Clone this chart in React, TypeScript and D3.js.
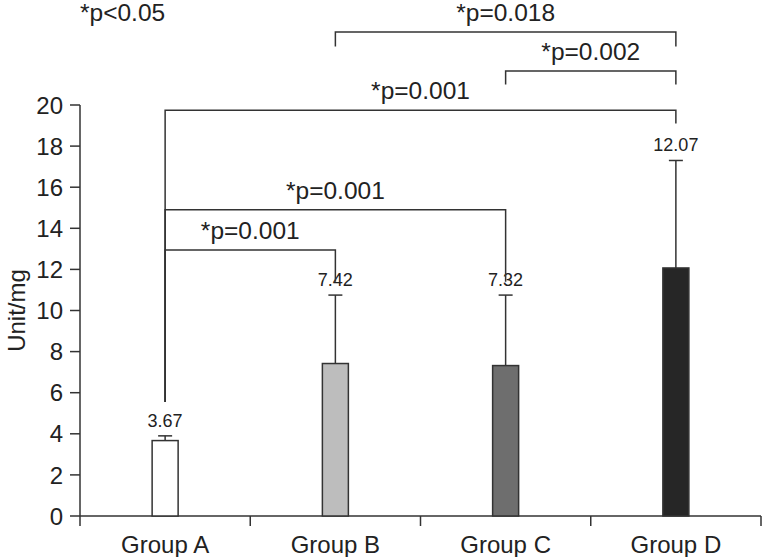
import React from "react";
import * as d3 from "d3";

const groups = ["Group A", "Group B", "Group C", "Group D"];
const means = [3.67, 7.42, 7.32, 12.07];
const errorTops = [3.9, 10.75, 10.75, 17.3];
const barColors = ["#ffffff", "#bdbdbd", "#6e6e6e", "#262626"];
const yTicks = [0, 2, 4, 6, 8, 10, 12, 14, 16, 18, 20];

// comparison brackets: level and leg ends in data units
const brackets = [
  { from: "Group A", to: "Group B", level: 12.95, leftEnd: 5.55, rightEnd: 11.4, label: "*p=0.001" },
  { from: "Group A", to: "Group C", level: 14.9, leftEnd: 5.55, rightEnd: 11.4, label: "*p=0.001" },
  { from: "Group A", to: "Group D", level: 19.75, leftEnd: 5.55, rightEnd: 19.1, label: "*p=0.001" },
  { from: "Group C", to: "Group D", level: 21.65, leftEnd: 21.0, rightEnd: 21.0, label: "*p=0.002" },
  { from: "Group B", to: "Group D", level: 23.55, leftEnd: 22.85, rightEnd: 22.85, label: "*p=0.018" },
];
const note = "*p<0.05";

const W = 762;
const H = 557;
const left = 80;
const right = 761;
const top = 105;
const bottom = 516;
const ink = "#333";
const font = "'Liberation Sans', Arial, Helvetica, sans-serif";

export default function App() {
  const x = d3.scaleBand<string>().domain(groups).range([left, right]).padding(0);
  const y = d3.scaleLinear().domain([0, 20]).range([bottom, top]);
  const cx = (g: string) => (x(g) ?? 0) + x.bandwidth() / 2;
  const barW = 26;
  const capW = 14;

  return (
    <div style={{ position: "fixed", left: 0, top: 0 }}>
      <svg width={W} height={H} style={{ display: "block", background: "#fff" }} fontFamily={font}>
        {/* y axis */}
        <line x1={left} x2={left} y1={top} y2={bottom} stroke={ink} strokeWidth={1.5} />
        {yTicks.map((t) => (
          <g key={t} transform={`translate(0,${y(t)})`}>
            <line x1={left - 10} x2={left} stroke={ink} strokeWidth={1.5} />
            <text x={left - 17} dy="0.36em" textAnchor="end" fontSize={24} fill="#222">
              {t}
            </text>
          </g>
        ))}
        <text
          transform={`translate(25,${(top + bottom) / 2}) rotate(-90)`}
          textAnchor="middle"
          fontSize={24}
          fill="#222"
        >
          Unit/mg
        </text>

        {/* x axis */}
        <line x1={left} x2={right} y1={bottom} y2={bottom} stroke={ink} strokeWidth={1.5} />
        {[...groups.map((g) => x(g) ?? 0), right].map((v, i) => (
          <line key={i} x1={v} x2={v} y1={bottom} y2={bottom + 10} stroke={ink} strokeWidth={1.5} />
        ))}
        {groups.map((g) => (
          <text key={g} x={cx(g)} y={553} textAnchor="middle" fontSize={24} fill="#222">
            {g}
          </text>
        ))}

        {/* bars + error bars */}
        {groups.map((g, i) => (
          <g key={g}>
            <line x1={cx(g)} x2={cx(g)} y1={y(means[i])} y2={y(errorTops[i])} stroke={ink} strokeWidth={1.5} />
            <line
              x1={cx(g) - capW / 2}
              x2={cx(g) + capW / 2}
              y1={y(errorTops[i])}
              y2={y(errorTops[i])}
              stroke={ink}
              strokeWidth={1.5}
            />
            <rect
              x={cx(g) - barW / 2}
              y={y(means[i])}
              width={barW}
              height={bottom - y(means[i])}
              fill={barColors[i]}
              stroke={ink}
              strokeWidth={1.5}
            />
            <text x={cx(g)} y={y(errorTops[i]) - 9} textAnchor="middle" fontSize={18} fill="#222">
              {means[i].toFixed(2)}
            </text>
          </g>
        ))}

        {/* significance brackets */}
        {brackets.map((b, i) => {
          const x1 = cx(b.from);
          const x2 = cx(b.to);
          const yl = y(b.level);
          return (
            <g key={i}>
              <path
                d={`M${x1},${y(b.leftEnd)}V${yl}H${x2}V${y(b.rightEnd)}`}
                fill="none"
                stroke={ink}
                strokeWidth={1.5}
              />
              <text x={(x1 + x2) / 2} y={yl - 11} textAnchor="middle" fontSize={24.5} fill="#222">
                {b.label}
              </text>
            </g>
          );
        })}
        <text x={80} y={21} fontSize={24.5} fill="#222">
          {note}
        </text>
      </svg>
    </div>
  );
}
